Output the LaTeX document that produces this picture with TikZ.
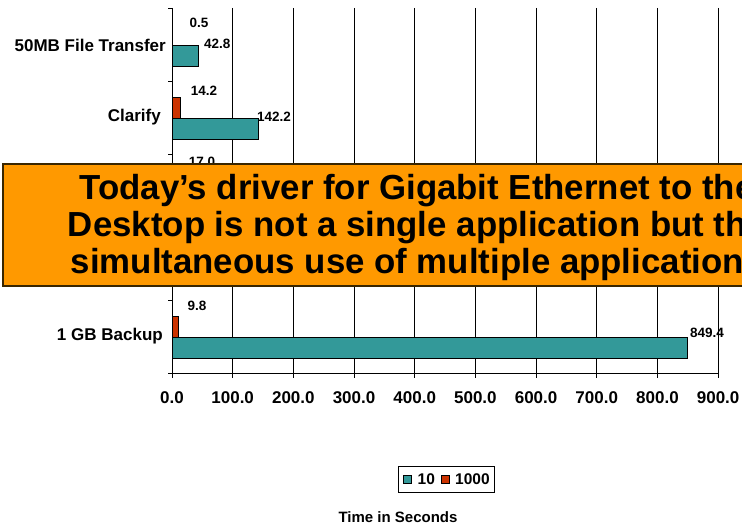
\documentclass[tikz,border=0pt]{standalone}
\usepackage{fontspec}
\setmainfont{Liberation Sans}
\definecolor{teal10}{HTML}{339999}
\definecolor{red1000}{HTML}{CC3300}
\definecolor{boxorange}{HTML}{FF9900}
\definecolor{boxedge}{HTML}{3A2600}
\begin{document}
\begin{tikzpicture}[x=1pt,y=-1pt,
  gridline/.style={draw=black, line width=0.6pt},
  axisline/.style={draw=black, line width=0.8pt},
  bar10/.style={fill=teal10, draw=black, line width=0.7pt},
  bar1000/.style={fill=red1000, draw=black, line width=0.7pt},
  val/.style={font=\bfseries\fontsize{13.5}{16}\selectfont, inner sep=0pt},
  cat/.style={font=\bfseries\fontsize{17}{20}\selectfont, inner sep=0pt, anchor=east},
  ticklab/.style={font=\bfseries\fontsize{17}{20}\selectfont, inner sep=0pt},
  legtext/.style={font=\bfseries\fontsize{15.5}{18}\selectfont, inner sep=0pt, anchor=west},
  bigtext/.style={font=\bfseries\fontsize{34.8}{40}\selectfont, inner sep=0pt, anchor=base}]
\useasboundingbox (0,0) rectangle (742,527);
\begin{scope}
\clip (0,0) rectangle (742,527);
% value labels
\node[val] (l05) at (199,22.5) {0.5};
\node[val, anchor=west] (l428) at (204,44) {42.8};
\node[val] (l142) at (204,90.5) {14.2};
\node[val, anchor=west] (l1422) at (257,116.7) {142.2};
\node[val] (l170) at (202,161.5) {17.0};
\node[val] (l98) at (197,306) {9.8};
\node[val, anchor=west] (l8494) at (690,333) {849.4};
% category labels
\node[cat] (c1) at (166,45) {50MB File Transfer};
\node[cat] (c2) at (161,117.5) {Clarify};
\node[cat] (c5) at (163,336) {1 GB Backup};
% gridlines and axis
\foreach \k in {1,...,9} {
  \draw[gridline] ({172+60.68*\k},8) -- ({172+60.68*\k},373);
}
\foreach \k/\lab in {0/0.0,1/100.0,2/200.0,3/300.0,4/400.0,5/500.0,6/600.0,7/700.0,8/800.0,9/900.0} {
  \draw[axisline] ({172+60.68*\k},373) -- ({172+60.68*\k},378);
  \node[ticklab] (t\k) at ({172+60.68*\k},398) {\lab};
}
\foreach \k in {0,...,5} {
  \draw[axisline] (168,{8+73*\k}) -- (172,{8+73*\k});
}
% bars
\draw[bar1000] (172,24.5) rectangle (172.3,45);
\draw[bar10] (172,45) rectangle (197.97,66);
\draw[bar1000] (172,97.5) rectangle (180.62,118);
\draw[bar10] (172,118) rectangle (258.29,139);
\draw[bar1000] (172,316.5) rectangle (177.95,337);
\draw[bar10] (172,337) rectangle (687.42,358);
\draw[axisline] (172,8) -- (172,373) -- (718.12,373);
% orange call-out box
\draw[fill=boxorange, draw=boxedge, line width=1.3pt] (3,164) rectangle (780,286);
\node[bigtext] (b1) at (417,199) {Today’s driver for Gigabit Ethernet to the};
\node[bigtext] (b2) at (417,236) {Desktop is not a single application but the};
\node[bigtext] (b3) at (417,273) {simultaneous use of multiple applications};
\end{scope}
% legend
\draw[draw=black, line width=0.7pt] (398,466) rectangle (494,492);
\draw[fill=teal10, draw=black, line width=0.6pt] (403,475.5) rectangle (411,483.5);
\node[legtext] (g10) at (417.5,479.5) {10};
\draw[fill=red1000, draw=black, line width=0.6pt] (441,475.5) rectangle (449,483.5);
\node[legtext] (g1000) at (455,479.5) {1000};
\node[font=\bfseries\fontsize{15}{18}\selectfont, inner sep=0pt] (xt) at (398,517) {Time in Seconds};
\end{tikzpicture}
\end{document}
